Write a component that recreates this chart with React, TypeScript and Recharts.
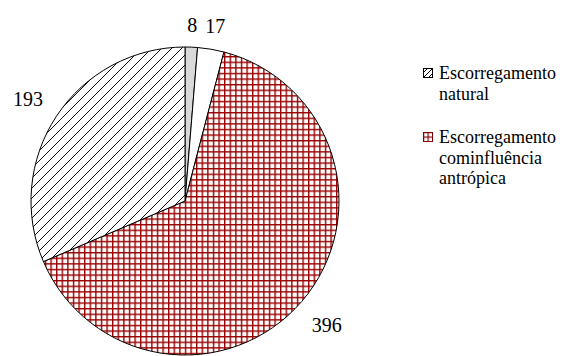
import React from 'react';
import { PieChart, Pie, Cell, Legend } from 'recharts';

const categories = ['Categoria A', 'Categoria B', 'Escorregamento cominfluência antrópica', 'Escorregamento natural'];
const values = [8, 17, 396, 193];
const legendItems = ['Escorregamento natural', 'Escorregamento cominfluência antrópica'];
const fills = ['#d9d9d9', '#ffffff', 'url(#gridRed)', 'url(#hatchBlack)'];
const legendSwatch: Record<string, string> = {
  'Escorregamento natural': 'url(#hatchSmall)',
  'Escorregamento cominfluência antrópica': 'url(#gridSmall)',
};
const legendBorder: Record<string, string> = {
  'Escorregamento natural': '#000',
  'Escorregamento cominfluência antrópica': '#800000',
};

const data = categories.map((name, i) => ({ name, value: values[i] }));

const FONT = '"Liberation Serif", "Times New Roman", serif';

const renderLabel = (props: any) => {
  const { cx, cy, midAngle, outerRadius, value } = props;
  const RAD = Math.PI / 180;
  const c = Math.cos(-midAngle * RAD);
  const s = Math.sin(-midAngle * RAD);
  const r = outerRadius + 24 + 12 * Math.abs(c);
  const x = cx + r * c;
  const y = cy + r * s + 2;
  return (
    <text x={x} y={y} textAnchor="middle" dominantBaseline="central" fill="#000" fontFamily={FONT} fontSize={20}>
      {value}
    </text>
  );
};

const renderLegend = () => (
  <div style={{ fontFamily: FONT, fontSize: 18, lineHeight: '20.5px', color: '#000' }}>
    {legendItems.map((name, i) => (
      <div key={name} style={{ display: 'flex', alignItems: 'flex-start', marginBottom: i === 0 ? 23 : 0 }}>
        <svg width={10} height={10} style={{ marginTop: 5, marginRight: 6, flex: 'none' }}>
          <rect x={0.5} y={0.5} width={9} height={9} fill={legendSwatch[name]} stroke={legendBorder[name]} strokeWidth={1} />
        </svg>
        <div style={{ width: 126 }}>{name}</div>
      </div>
    ))}
  </div>
);

export default function App() {
  return (
    <div style={{ position: 'absolute', left: 0, top: 0, width: 563, height: 356, background: '#fff' }}>
      <svg width={0} height={0} style={{ position: 'absolute' }}>
        <defs>
          <pattern id="hatchBlack" patternUnits="userSpaceOnUse" width={10} height={10}>
            <rect width={10} height={10} fill="#fff" />
            <path d="M-1,1 l2,-2 M0,10 l10,-10 M9,11 l2,-2" stroke="#111" strokeWidth={1} />
          </pattern>
          <pattern id="gridRed" patternUnits="userSpaceOnUse" width={5.6} height={5.6}>
            <rect width={5.6} height={5.6} fill="#fff" />
            <path d="M0,0.7 H5.6 M0.7,0 V5.6" stroke="#990000" strokeWidth={1.4} />
          </pattern>
          <pattern id="hatchSmall" patternUnits="userSpaceOnUse" width={5} height={5}>
            <rect width={5} height={5} fill="#fff" />
            <path d="M0,5 l5,-5" stroke="#000" strokeWidth={1} />
          </pattern>
          <pattern id="gridSmall" patternUnits="userSpaceOnUse" width={4.5} height={4.5}>
            <rect width={4.5} height={4.5} fill="#fff" />
            <path d="M0,0.6 H4.5 M0.6,0 V4.5" stroke="#8b0000" strokeWidth={1.2} />
          </pattern>
        </defs>
      </svg>
      <PieChart width={563} height={356} margin={{ top: 0, right: 0, bottom: 0, left: 0 }}>
        <Pie
          data={data}
          dataKey="value"
          nameKey="name"
          cx={185}
          cy={201}
          outerRadius={154}
          startAngle={90}
          endAngle={-270}
          stroke="#000"
          strokeWidth={1}
          label={renderLabel}
          labelLine={false}
          isAnimationActive={false}
        >
          {data.map((d, i) => (
            <Cell key={d.name} fill={fills[i]} />
          ))}
        </Pie>
        <Legend
          content={renderLegend}
          layout="vertical"
          align="right"
          verticalAlign="top"
          wrapperStyle={{ left: 423, top: 63, width: 140 }}
        />
      </PieChart>
    </div>
  );
}
